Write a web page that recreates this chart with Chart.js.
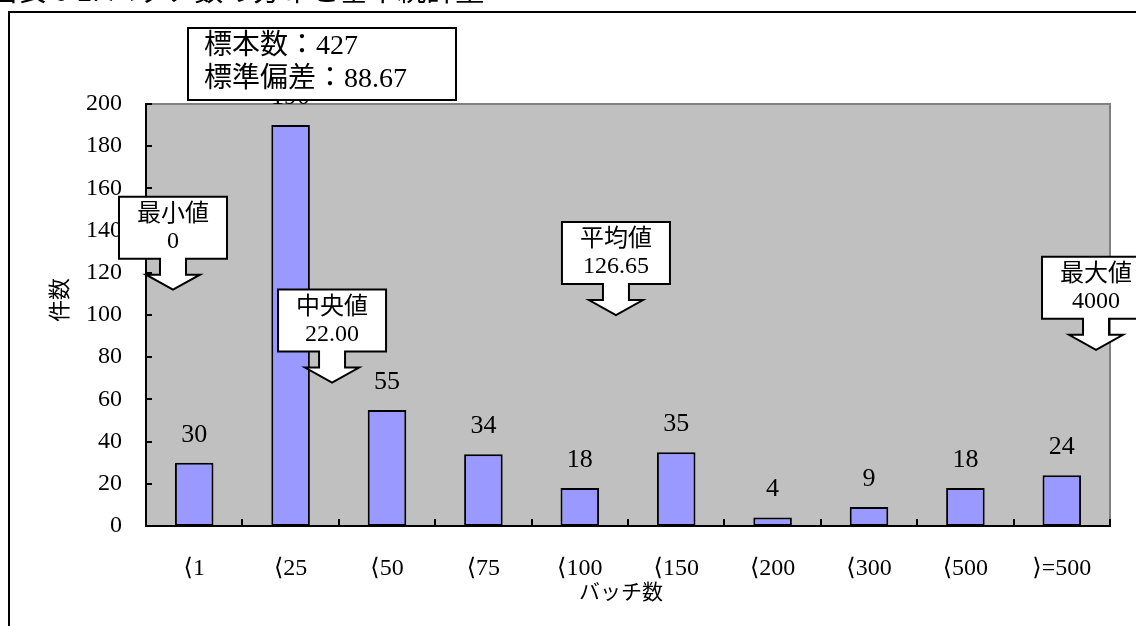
<!DOCTYPE html>
<html>
<head>
<meta charset="utf-8">
<script src="https://cdn.jsdelivr.net/npm/chart.js@4.4.1/dist/chart.umd.min.js"></script>
<style>
  html, body { margin: 0; padding: 0; background: #fff; overflow: hidden; }
  #c { display: block; }
</style>
</head>
<body>
<canvas id="c" width="1136" height="626"></canvas>
<script>
// Distribution of batch counts
const categories = ['⟨1', '⟨25', '⟨50', '⟨75', '⟨100', '⟨150', '⟨200', '⟨300', '⟨500', '⟩=500'];
const counts = [30, 190, 55, 34, 18, 35, 4, 9, 18, 24];
const yTickValues = [0, 20, 40, 60, 80, 100, 120, 140, 160, 180, 200];

// Summary statistics
const statLines = ['標本数：427', '標準偏差：88.67'];
const calloutNames = ['最小値', '中央値', '平均値', '最大値'];
const calloutValues = ['0', '22.00', '126.65', '4000'];
// Arrow tip of each callout, in axis units (category position, count)
const calloutAtCategory = [-0.22, 1.43, 4.375, 9.355];
const calloutAtCount = [112, 68, 100, 83.5];

const chartTitle = '図表 6-2: バッチ数の分布と基本統計量';
const xTitle = 'バッチ数';
const yTitle = '件数';

const SERIF = '"Liberation Serif", "DejaVu Serif", "Noto Sans CJK JP", serif';

const decor = {
  id: 'decor',
  beforeDraw(chart) {
    const { ctx, chartArea: a } = chart;
    ctx.save();
    ctx.fillStyle = '#ffffff';
    ctx.fillRect(0, 0, chart.width, chart.height);
    ctx.fillStyle = '#C0C0C0';
    ctx.fillRect(a.left, a.top, a.right - a.left, a.bottom - a.top);
    ctx.restore();
  },
  afterDatasetsDraw(chart) {
    const { ctx, chartArea: a, scales } = chart;
    const xs = scales.x, ys = scales.y;
    ctx.save();

    // plot frame: grey top/right, black axes left/bottom
    ctx.lineWidth = 2;
    ctx.strokeStyle = '#808080';
    ctx.beginPath();
    ctx.moveTo(a.left, a.top);
    ctx.lineTo(a.right, a.top);
    ctx.lineTo(a.right, a.bottom);
    ctx.stroke();
    ctx.strokeStyle = '#000';
    ctx.beginPath();
    ctx.moveTo(a.left, a.top - 1);
    ctx.lineTo(a.left, a.bottom);
    ctx.lineTo(a.right + 1, a.bottom);
    ctx.stroke();

    // inward tick marks
    ctx.lineWidth = 2;
    yTickValues.forEach(v => {
      const y = Math.round(ys.getPixelForValue(v));
      ctx.beginPath();
      ctx.moveTo(a.left, y);
      ctx.lineTo(a.left + 6, y);
      ctx.stroke();
    });
    for (let i = 0; i <= categories.length; i++) {
      const x = Math.round(xs.getPixelForValue(i - 0.5));
      ctx.beginPath();
      ctx.moveTo(x, a.bottom);
      ctx.lineTo(x, a.bottom - 7);
      ctx.stroke();
    }

    // value labels above bars
    ctx.fillStyle = '#000';
    ctx.font = '26px ' + SERIF;
    ctx.textAlign = 'center';
    ctx.textBaseline = 'middle';
    const meta = chart.getDatasetMeta(0);
    meta.data.forEach((bar, i) => {
      ctx.fillText(String(counts[i]), bar.x, bar.y - 28);
    });

    // callouts with downward arrows
    calloutNames.forEach((name, i) => {
      const tx = xs.getPixelForValue(calloutAtCategory[i]);
      const ty = ys.getPixelForValue(calloutAtCount[i]);
      const bw = 108, bh = 62;
      const headH = 15, stemH = 16, stemW = 13, headW = 27;
      const boxBottom = ty - headH - stemH;
      const boxTop = boxBottom - bh;
      ctx.beginPath();
      ctx.moveTo(tx - bw / 2, boxTop);
      ctx.lineTo(tx + bw / 2, boxTop);
      ctx.lineTo(tx + bw / 2, boxBottom);
      ctx.lineTo(tx + stemW, boxBottom);
      ctx.lineTo(tx + stemW, boxBottom + stemH);
      ctx.lineTo(tx + headW, boxBottom + stemH);
      ctx.lineTo(tx, ty);
      ctx.lineTo(tx - headW, boxBottom + stemH);
      ctx.lineTo(tx - stemW, boxBottom + stemH);
      ctx.lineTo(tx - stemW, boxBottom);
      ctx.lineTo(tx - bw / 2, boxBottom);
      ctx.closePath();
      ctx.fillStyle = '#fff';
      ctx.fill();
      ctx.strokeStyle = '#000';
      ctx.lineWidth = 2;
      ctx.stroke();
      ctx.fillStyle = '#000';
      ctx.font = '24px ' + SERIF;
      ctx.textAlign = 'center';
      ctx.textBaseline = 'middle';
      ctx.fillText(name, tx, boxTop + 18);
      ctx.fillText(calloutValues[i], tx, boxTop + 45);
    });

    // statistics box
    ctx.fillStyle = '#fff';
    ctx.fillRect(188, 28, 268, 72);
    ctx.strokeStyle = '#000';
    ctx.lineWidth = 2;
    ctx.strokeRect(188, 28, 268, 72);
    ctx.fillStyle = '#000';
    ctx.font = '28px ' + SERIF;
    ctx.textAlign = 'left';
    ctx.textBaseline = 'middle';
    ctx.fillText(statLines[0], 204, 47);
    ctx.fillText(statLines[1], 204, 80);

    // axis titles
    ctx.font = '21px ' + SERIF;
    ctx.textAlign = 'center';
    ctx.fillText(xTitle, (a.left + a.right) / 2 - 7, 593);
    ctx.font = '22px ' + SERIF;
    ctx.save();
    ctx.translate(61, 300);
    ctx.rotate(-Math.PI / 2);
    ctx.fillText(yTitle, 0, 0);
    ctx.restore();

    // heading (runs off the top edge)
    ctx.font = '29px ' + SERIF;
    ctx.textAlign = 'left';
    ctx.textBaseline = 'alphabetic';
    ctx.fillText(chartTitle, -12, 1);

    // outer frame
    ctx.lineWidth = 2;
    ctx.beginPath();
    ctx.moveTo(9, chart.height + 2);
    ctx.lineTo(9, 12);
    ctx.lineTo(chart.width + 2, 12);
    ctx.stroke();

    ctx.restore();
  }
};

new Chart(document.getElementById('c'), {
  type: 'bar',
  data: {
    labels: categories,
    datasets: [{
      data: counts,
      backgroundColor: '#9999FF',
      borderColor: '#000',
      borderWidth: 2,
      borderSkipped: false,
      categoryPercentage: 1,
      barPercentage: 0.4
    }]
  },
  options: {
    responsive: false,
    animation: false,
    devicePixelRatio: 1,
    layout: { padding: { left: 0, top: 104, right: 26, bottom: 0 } },
    plugins: { legend: { display: false }, tooltip: { enabled: false } },
    scales: {
      x: {
        grid: { display: false, drawTicks: false },
        border: { display: false },
        ticks: { color: '#000', font: { size: 24, family: SERIF }, padding: 28, maxRotation: 0 },
        afterFit(s) { s.height = 100; }
      },
      y: {
        min: 0, max: 200,
        grid: { display: false, drawTicks: false },
        border: { display: false },
        ticks: { stepSize: 20, color: '#000', font: { size: 24, family: SERIF }, padding: 24 },
        afterFit(s) { s.width = 146; }
      }
    }
  },
  plugins: [decor]
});
</script>
</body>
</html>
